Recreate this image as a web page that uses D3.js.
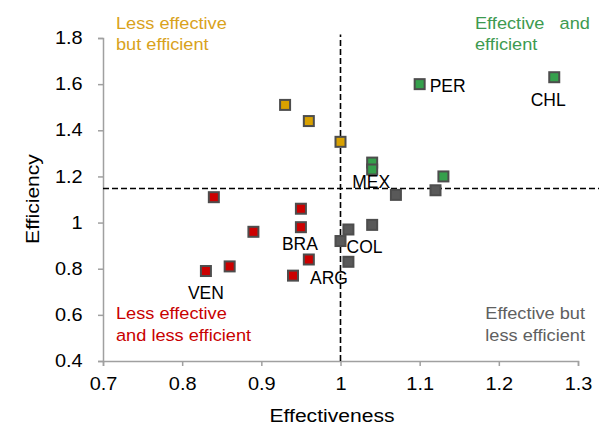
<!DOCTYPE html>
<html>
<head>
<meta charset="utf-8">
<script src="https://cdn.jsdelivr.net/npm/d3@7/dist/d3.min.js"></script>
<style>
    body { margin: 0; background: #fff; }
    text { font-family: "Liberation Sans", Arial, sans-serif; }
    .axis path, .axis line { stroke: #a0a0a0; stroke-width: 1.5px; }
    .axis text { font-size: 17.5px; fill: #000; }
</style>
</head>
<body>
<script>
    // data: effectiveness (x) and efficiency (y) per country, grouped by quadrant
    var effectiveness = [0.93, 0.96, 1.00, 1.10, 1.27, 1.04, 1.04, 1.13, 1.07, 1.12, 1.04, 1.01, 1.00, 1.01, 0.84, 0.95, 0.95, 0.89, 0.96, 0.94, 0.86, 0.83];
    var efficiency    = [1.51, 1.44, 1.35, 1.60, 1.63, 1.26, 1.23, 1.20, 1.12, 1.14, 0.99, 0.97, 0.92, 0.83, 1.11, 1.06, 0.98, 0.96, 0.84, 0.77, 0.81, 0.79];
    var group         = ["lb", "lb", "lb", "ee", "ee", "ee", "ee", "ee", "el", "el", "el", "el", "el", "el", "ll", "ll", "ll", "ll", "ll", "ll", "ll", "ll"];
    var labels        = ["", "", "", "PER", "CHL", "", "MEX", "", "", "", "", "", "COL", "", "", "", "BRA", "", "", "ARG", "", "VEN"];

    var xTicks = [0.7, 0.8, 0.9, 1, 1.1, 1.2, 1.3];
    var yTicks = [0.4, 0.6, 0.8, 1, 1.2, 1.4, 1.6, 1.8];
    var xCut = 1.0, yCut = 1.148;

    var quadrantText = {
        lb: ["Less effective", "but efficient"],
        ee: ["Effective   and", "efficient"],
        ll: ["Less effective", "and less efficient"],
        el: ["Effective but", "less efficient"]
    };
    var colors = { lb: "#d9a100", ee: "#35a04c", ll: "#cc0000", el: "#595959" };
    var textColors = { lb: "#d9a21b", ee: "#3d9a50", ll: "#c80000", el: "#606060" };

    // label placement: anchor and pixel offset from the point
    var labelPlace = {
        PER: ["start", 10, 8],
        CHL: ["middle", -6, 29],
        MEX: ["middle", -1, 18],
        COL: ["start", 6, 12],
        BRA: ["middle", -1, 23],
        ARG: ["start", 17, 8],
        VEN: ["middle", 0, 28]
    };

    var width = 599, height = 426;
    var margin = { top: 38, right: 21, bottom: 65, left: 103 };
    var stretch = 1.14; // text in the original is a bit wide

    var svg = d3.select("body").append("svg")
        .attr("width", width)
        .attr("height", height);

    var x = d3.scaleLinear().domain([0.7, 1.3]).range([margin.left, width - margin.right]);
    var y = d3.scaleLinear().domain([0.4, 1.8]).range([height - margin.bottom, margin.top]);

    var xAxis = svg.append("g")
        .attr("class", "axis")
        .attr("transform", "translate(0," + y(0.4) + ")")
        .call(d3.axisBottom(x).tickValues(xTicks).tickSize(5).tickSizeOuter(5).tickPadding(12).tickFormat(d3.format("")));
    xAxis.selectAll(".tick text").attr("transform", "scale(" + stretch + ",1)");

    var yAxis = svg.append("g")
        .attr("class", "axis")
        .attr("transform", "translate(" + x(0.7) + ",0)")
        .call(d3.axisLeft(y).tickValues(yTicks).tickSize(5).tickSizeOuter(5).tickFormat(d3.format("")));
    yAxis.selectAll(".tick text")
        .attr("x", -20.3 / stretch)
        .attr("transform", "scale(" + stretch + ",1)");

    // axis titles
    svg.append("text")
        .attr("transform", "translate(332,422) scale(" + stretch + ",1)")
        .attr("text-anchor", "middle")
        .style("font-size", "18.5px")
        .text("Effectiveness");

    svg.append("text")
        .attr("transform", "translate(38.5,199) rotate(-90) scale(" + stretch + ",1)")
        .attr("text-anchor", "middle")
        .style("font-size", "18.5px")
        .text("Efficiency");

    // dashed cut lines
    svg.append("line")
        .attr("x1", x(0.7)).attr("x2", width)
        .attr("y1", y(yCut)).attr("y2", y(yCut))
        .attr("stroke", "#000").attr("stroke-width", 1.6)
        .attr("stroke-dasharray", "6,3");

    svg.append("line")
        .attr("x1", x(xCut)).attr("x2", x(xCut))
        .attr("y1", y(0.4)).attr("y2", y(1.815))
        .attr("stroke", "#000").attr("stroke-width", 1.6)
        .attr("stroke-dasharray", "6,3");

    // points
    var points = d3.range(effectiveness.length).map(function (i) {
        return { x: effectiveness[i], y: efficiency[i], g: group[i], label: labels[i] };
    });

    var s = 10;
    svg.append("g")
        .selectAll("rect")
        .data(points)
        .enter()
        .append("rect")
        .attr("x", function (d) { return x(d.x) - s / 2; })
        .attr("y", function (d) { return y(d.y) - s / 2; })
        .attr("width", s)
        .attr("height", s)
        .attr("fill", function (d) { return colors[d.g]; })
        .attr("stroke", "#4d4d4d")
        .attr("stroke-width", 2);

    // country labels
    svg.append("g")
        .selectAll("text")
        .data(points.filter(function (d) { return d.label; }))
        .enter()
        .append("text")
        .style("font-size", "17.5px")
        .attr("text-anchor", function (d) { return labelPlace[d.label][0]; })
        .attr("x", function (d) { return x(d.x) + labelPlace[d.label][1]; })
        .attr("y", function (d) { return y(d.y) + labelPlace[d.label][2]; })
        .text(function (d) { return d.label; });

    // quadrant captions
    var captions = [
        { g: "lb", x: 116, y: 28.7, anchor: "start", gap: 21 },
        { g: "ee", x: 475, y: 28.7, anchor: "start", gap: 21 },
        { g: "ll", x: 116, y: 319, anchor: "start", gap: 22 },
        { g: "el", x: 585, y: 319, anchor: "end", gap: 22 }
    ];
    captions.forEach(function (c) {
        var t = svg.append("text")
            .attr("transform", "translate(" + c.x + "," + c.y + ") scale(1.07,1)")
            .attr("text-anchor", c.anchor)
            .attr("fill", textColors[c.g])
            .style("white-space", "pre")
            .style("font-size", "17px");
        quadrantText[c.g].forEach(function (line, i) {
            t.append("tspan")
                .attr("x", 0)
                .attr("dy", i == 0 ? 0 : c.gap)
                .text(line);
        });
    });
</script>
</body>
</html>
